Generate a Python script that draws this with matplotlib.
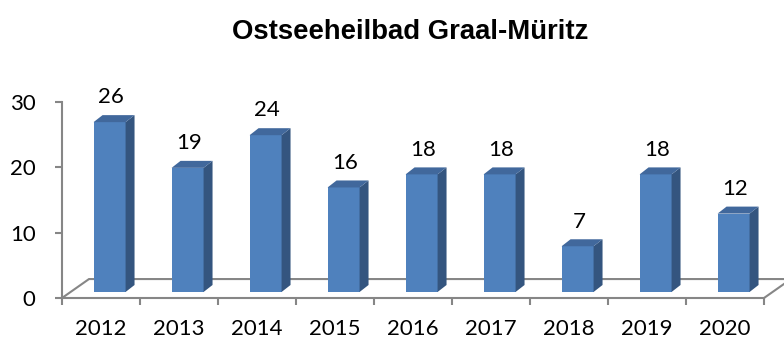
import matplotlib.pyplot as plt
from matplotlib.patches import Polygon, Rectangle

years = ["2012", "2013", "2014", "2015", "2016", "2017", "2018", "2019", "2020"]
values = [26, 19, 24, 16, 18, 18, 7, 18, 12]
y_ticks = [0, 10, 20, 30]

front_col = "#4F81BD"
side_col = "#34557F"
top_col = "#41689C"
axis_col = "#868686"

# pseudo-3D geometry in data units
bar_w = 0.41
bar_dx, bar_dy = 0.11, 0.92      # shift of bar front plane behind floor edge
depth_dx, depth_dy = 0.115, 1.07  # bar depth
floor_dx, floor_dy = 0.346, 2.9   # floor depth

fig = plt.figure(figsize=(7.84, 3.42), dpi=100)
ax = fig.add_axes([62 / 784, 44 / 342, 702 / 784, 196 / 342])
ax.set_xlim(-0.5, len(years) - 0.5)
ax.set_ylim(0, 30)
ax.patch.set_visible(False)

for s in ["top", "right"]:
    ax.spines[s].set_visible(False)
for s in ["left", "bottom"]:
    ax.spines[s].set_color(axis_col)
    ax.spines[s].set_linewidth(1.5)

# floor outline behind the bars
x_l, x_r = -0.5, len(years) - 0.5
ax.plot([x_l, x_l + floor_dx, x_r + floor_dx, x_r], [0, floor_dy, floor_dy, 0],
        color=axis_col, lw=1.5, clip_on=False, zorder=1, solid_joinstyle="miter")

for i, v in enumerate(values):
    x0 = i + bar_dx - bar_w / 2
    x1 = x0 + bar_w
    y0 = bar_dy
    top = y0 + v
    ax.add_patch(Rectangle((x0, y0), bar_w, v, facecolor=front_col,
                           edgecolor="none", zorder=3, clip_on=False))
    ax.add_patch(Polygon([(x1, y0), (x1 + depth_dx, y0 + depth_dy),
                          (x1 + depth_dx, top + depth_dy), (x1, top)],
                         closed=True, facecolor=side_col, edgecolor="none",
                         zorder=3, clip_on=False))
    ax.add_patch(Polygon([(x0, top), (x0 + depth_dx, top + depth_dy),
                          (x1 + depth_dx, top + depth_dy), (x1, top)],
                         closed=True, facecolor=top_col, edgecolor="none",
                         zorder=3, clip_on=False))
    ax.text(i + bar_dx + 0.02, top + depth_dy + 1.8, str(v), ha="center",
            va="baseline", fontsize=16, family="Lato", clip_on=False)

ax.set_xticks(range(len(years)))
ax.set_xticklabels(years, fontsize=16, family="Lato")
ax.set_xticks([k - 0.5 for k in range(len(years) + 1)], minor=True)
ax.tick_params(axis="x", which="major", length=0, pad=15)
ax.tick_params(axis="x", which="minor", length=5, width=1.5, color=axis_col)

ax.set_yticks(y_ticks)
ax.set_yticklabels([str(t) for t in y_ticks], fontsize=16, family="Lato")
ax.tick_params(axis="y", length=5, width=1.5, color=axis_col, pad=14)

fig.text(410 / 784, 1 - 39 / 342, "Ostseeheilbad Graal-Müritz", ha="center",
         va="baseline", fontsize=19.8, fontweight="bold", family="Liberation Sans")

fig.savefig("out.png", dpi=100)
